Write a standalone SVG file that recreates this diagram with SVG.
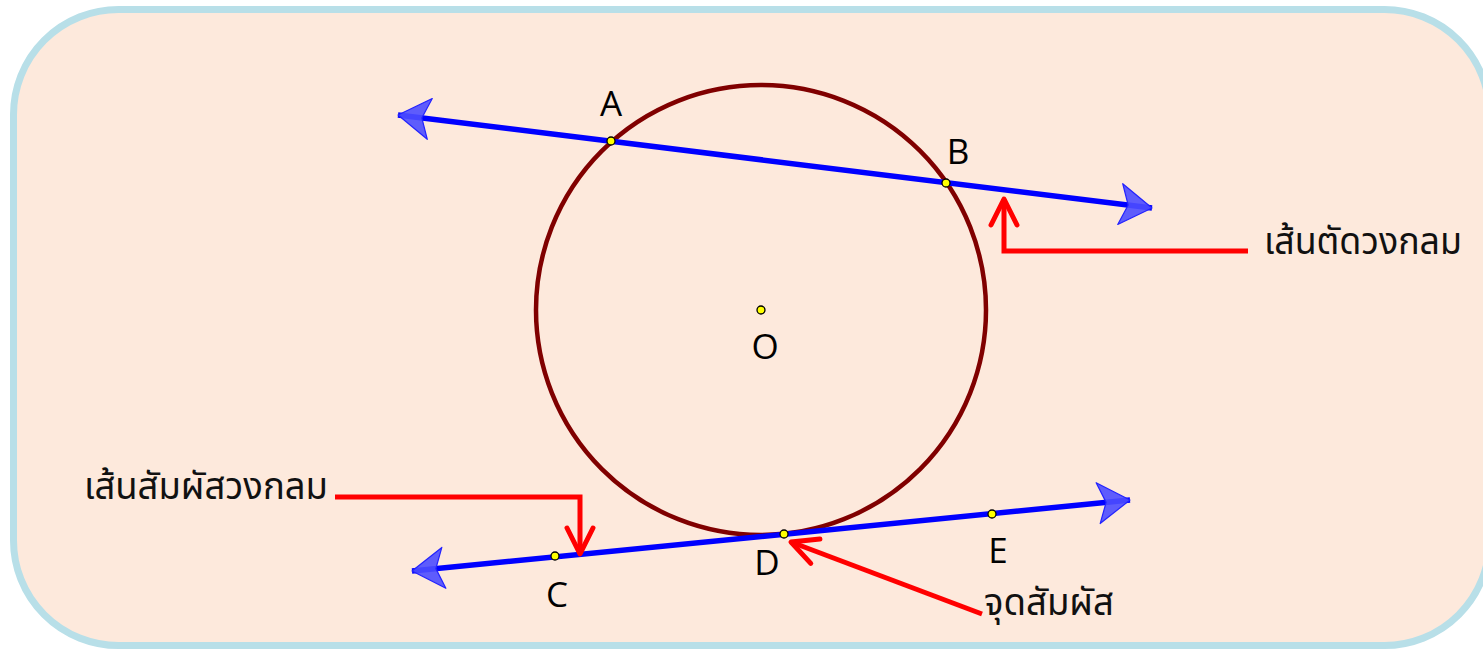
<svg xmlns="http://www.w3.org/2000/svg" width="1483" height="650" viewBox="0 0 1483 650">
<style>
.lbl{font-family:"Open Sans","Noto Sans",sans-serif;font-size:35px;fill:#000;text-anchor:middle}
.th{font-family:"Noto Sans Thai","Noto Sans","Open Sans",sans-serif;font-size:37px;fill:#111}
.blue{stroke:#0000ff;stroke-width:5.5;fill:none}
.red{stroke:#ff0000;stroke-width:5;fill:none}
.pt{fill:#ffff00;stroke:#000;stroke-width:1.3}
</style>
<defs>
<marker id="bh" markerUnits="userSpaceOnUse" viewBox="-40 -25 45 50" refX="0" refY="0" markerWidth="45" markerHeight="50" orient="auto-start-reverse">
<path d="M0 0 L-32 -20.5 L-24 0 L-32 20.5 Z" fill="#4d4dff" fill-opacity="0.9" stroke="#2222ff" stroke-width="1.2" stroke-linejoin="round"/>
</marker>
<marker id="rh" markerUnits="userSpaceOnUse" viewBox="-32 -18 36 36" refX="0" refY="0" markerWidth="36" markerHeight="36" orient="auto">
<path d="M-26 -13 L0 0 L-26 13" fill="none" stroke="#ff0000" stroke-width="5" stroke-linecap="round" stroke-linejoin="round"/>
</marker>
</defs>
<rect x="13.5" y="9.5" width="1476" height="636" rx="105" ry="105" fill="#fde9dc" stroke="#b8dfe8" stroke-width="7"/>
<g id="circle"><circle cx="761" cy="310" r="225" fill="none" stroke="#800000" stroke-width="4.5"/></g>
<g id="connectors">
<line class="blue" x1="398" y1="115" x2="1152" y2="208" marker-start="url(#bh)" marker-end="url(#bh)"/>
<line class="blue" x1="412" y1="571" x2="1130" y2="500" marker-start="url(#bh)" marker-end="url(#bh)"/>
<polyline class="red" points="1248,251 1004,251 1004,199" marker-end="url(#rh)"/>
<polyline class="red" points="335,497 580,497 580,554" marker-end="url(#rh)"/>
<line class="red" x1="982" y1="614" x2="791" y2="542" marker-end="url(#rh)"/>
</g>
<g id="points">
<circle class="pt" cx="611" cy="141" r="4"/>
<circle class="pt" cx="946" cy="183" r="4"/>
<circle class="pt" cx="761" cy="310" r="4"/>
<circle class="pt" cx="555" cy="556" r="4"/>
<circle class="pt" cx="784" cy="534" r="4"/>
<circle class="pt" cx="992" cy="514" r="4"/>
</g>
<g id="labels">
<text class="lbl" x="611" y="116">A</text>
<text class="lbl" x="958" y="164">B</text>
<text class="lbl" x="765" y="359">O</text>
<text class="lbl" x="557" y="607">C</text>
<text class="lbl" x="767" y="575">D</text>
<text class="lbl" x="998" y="563">E</text>
</g>
<g id="secant-label"><text class="th" x="1264" y="254" textLength="198" lengthAdjust="spacingAndGlyphs">เส้นตัดวงกลม</text></g>
<g id="tangent-label"><text class="th" x="84" y="499" textLength="244" lengthAdjust="spacingAndGlyphs">เส้นสัมผัสวงกลม</text></g>
<g id="contact-label"><text class="th" x="984" y="615" textLength="130" lengthAdjust="spacingAndGlyphs">จุดสัมผัส</text></g>
</svg>
